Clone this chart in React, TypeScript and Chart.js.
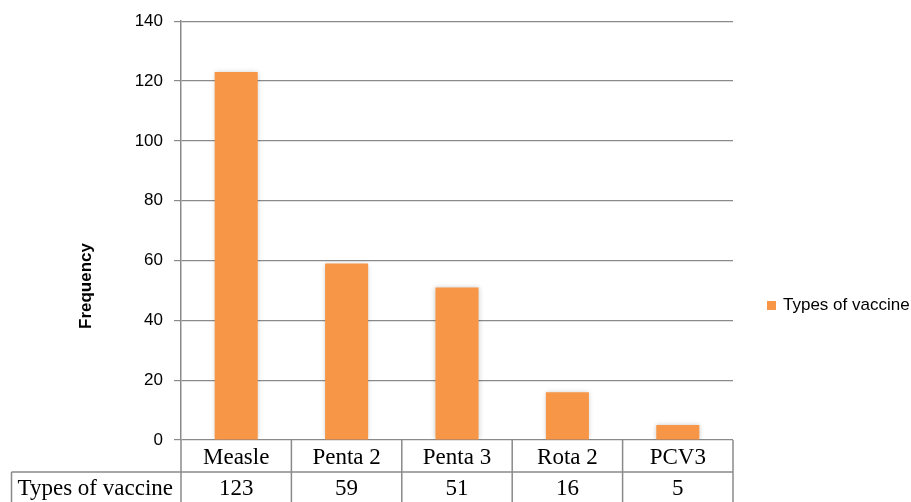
import React, { useEffect, useRef } from "react";
import { Chart, registerables } from "chart.js";

Chart.register(...registerables);

const categories = ["Measle", "Penta 2", "Penta 3", "Rota 2", "PCV3"];
const seriesName = "Types of vaccine";
const values = [123, 59, 51, 16, 5];
const yTicks = [0, 20, 40, 60, 80, 100, 120, 140];
const yTitle = "Frequency";

const ORANGE = "#F79646";
const GRID = "#8a8a8a";

const extrasPlugin = {
  id: "extras",
  beforeDatasetsDraw(chart: any) {
    const ctx = chart.ctx;
    ctx.save();
    ctx.shadowColor = "rgba(0,0,0,0.22)";
    ctx.shadowBlur = 5;
    ctx.shadowOffsetX = 0;
    ctx.shadowOffsetY = 0;
  },
  afterDatasetsDraw(chart: any) {
    chart.ctx.restore();
  },
  afterDraw(chart: any) {
    const ctx = chart.ctx;
    const area = chart.chartArea;
    const xs = chart.scales.x;
    const n = categories.length;
    const left = area.left;
    const right = area.right;
    const top = area.bottom;
    const rowH = 31;
    const midY = top + rowH + 1;
    const bottom = chart.height;
    const headerLeft = 11.5;

    ctx.save();
    ctx.strokeStyle = GRID;
    ctx.lineWidth = 1.5;
    ctx.beginPath();
    for (let i = 0; i <= n; i++) {
      const x = i === 0 ? left : i === n ? right : (xs.getPixelForValue(i - 1) + xs.getPixelForValue(i)) / 2;
      ctx.moveTo(x, top);
      ctx.lineTo(x, bottom);
    }
    ctx.moveTo(headerLeft, midY);
    ctx.lineTo(headerLeft, bottom);
    ctx.moveTo(headerLeft, midY);
    ctx.lineTo(right, midY);
    ctx.stroke();

    ctx.fillStyle = "#000";
    ctx.font = "23px 'Liberation Serif', 'Times New Roman', serif";
    ctx.textAlign = "center";
    ctx.textBaseline = "alphabetic";
    categories.forEach((c, i) => {
      const cx = xs.getPixelForValue(i);
      ctx.fillText(c, cx, top + 24);
      ctx.fillText(String(values[i]), cx, midY + 23);
    });
    ctx.fillText(seriesName, (headerLeft + left) / 2 - 1, midY + 23);

    // legend
    ctx.fillStyle = ORANGE;
    ctx.fillRect(767, 301, 9, 9);
    ctx.fillStyle = "#000";
    ctx.textAlign = "left";
    ctx.textBaseline = "middle";
    ctx.font = "17px 'Liberation Sans', Arial, sans-serif";
    ctx.fillText(seriesName, 783, 305);

    // y title
    ctx.translate(86, 286);
    ctx.rotate(-Math.PI / 2);
    ctx.textAlign = "center";
    ctx.textBaseline = "middle";
    ctx.font = "bold 17px 'Liberation Sans', Arial, sans-serif";
    ctx.fillText(yTitle, 0, 0);
    ctx.restore();
  },
};

export default function App() {
  const ref = useRef<HTMLCanvasElement | null>(null);
  useEffect(() => {
    if (!ref.current) return;
    const chart = new Chart(ref.current, {
      type: "bar",
      data: {
        labels: categories,
        datasets: [
          {
            label: seriesName,
            data: values,
            backgroundColor: ORANGE,
            borderWidth: 0,
            barPercentage: 0.39,
            categoryPercentage: 1,
          },
        ],
      },
      options: {
        responsive: false,
        animation: false,
        devicePixelRatio: 1,
        layout: { padding: { left: 0, right: 178, top: 21, bottom: 62 } },
        plugins: { legend: { display: false }, tooltip: { enabled: false } },
        scales: {
          x: { display: false },
          y: {
            min: yTicks[0],
            max: yTicks[yTicks.length - 1],
            afterFit: (s: any) => {
              s.width = 181;
            },
            afterBuildTicks: (s: any) => {
              s.ticks = yTicks.map((v) => ({ value: v }));
            },
            ticks: {
              color: "#000",
              padding: 11,
              font: { family: "'Liberation Sans', Arial, sans-serif", size: 17 },
            },
            grid: { color: GRID, lineWidth: 1.2, tickLength: 7, drawTicks: true },
            border: { display: true, color: GRID, width: 1.5 },
          },
        },
      },
      plugins: [extrasPlugin],
    });
    return () => chart.destroy();
  }, []);
  return (
    <div style={{ position: "absolute", left: 0, top: 0, width: 911, height: 502, background: "#fff" }}>
      <canvas ref={ref} width={911} height={502} />
    </div>
  );
}
